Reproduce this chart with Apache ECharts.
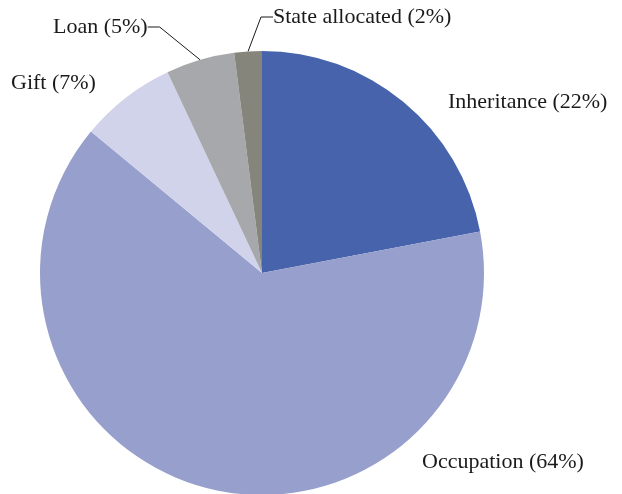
<!DOCTYPE html>
<html>
<head>
<meta charset="utf-8">
<script src="https://cdn.jsdelivr.net/npm/echarts@6/dist/echarts.min.js"></script>
<style>
  html, body { margin: 0; padding: 0; background: #fff; }
  #chart { width: 622px; height: 494px; }
</style>
</head>
<body>
<div id="chart"></div>
<script>
var categories = ['Inheritance', 'Occupation', 'Gift', 'Loan', 'State allocated'];
var shares = [22, 64, 7, 5, 2];
var colors = ['#4663ac', '#979fcc', '#d0d3ea', '#a7a8ab', '#85857b'];

// where each label sits (left edge, middle)
var labelPos = [[448, 102], [422, 462], [11, 83], [53, 27], [273, 17]];

var myChart = echarts.init(document.getElementById('chart'));
var pieData = [];
for (var i = 0; i < categories.length; i++) {
  pieData.push({
    name: categories[i],
    value: shares[i],
    itemStyle: { color: colors[i] },
    labelLine: { show: i >= 3 }
  });
}

var option = {
  animation: false,
  series: [
    {
      type: 'pie',
      center: [262, 273],
      radius: 222,
      startAngle: 90,
      clockwise: true,
      data: pieData,
      label: {
        show: true,
        position: 'outside',
        formatter: '{b} ({c}%)',
        fontFamily: 'Liberation Serif',
        fontSize: 22,
        color: '#1a1a1a'
      },
      labelLine: {
        length: 18,
        length2: 12,
        lineStyle: { color: '#1a1a1a', width: 1 }
      },
      labelLayout: function (params) {
        var p = labelPos[params.dataIndex];
        return { x: p[0], y: p[1], align: 'left', verticalAlign: 'middle', moveOverlap: false };
      }
    }
  ]
};
myChart.setOption(option);
</script>
</body>
</html>
